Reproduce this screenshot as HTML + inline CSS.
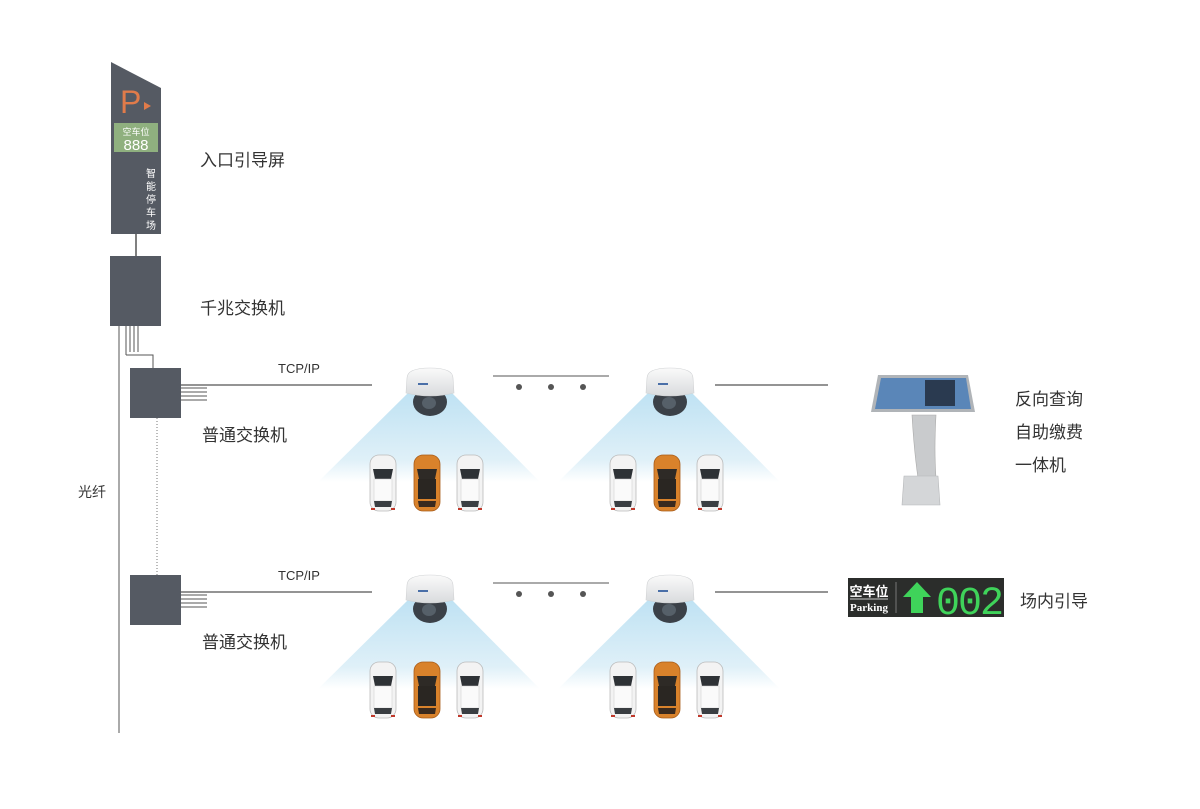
<!DOCTYPE html>
<html><head><meta charset="utf-8"><style>
body{margin:0;background:#fff;}
svg{display:block;font-family:"Liberation Sans","Noto Sans CJK SC",sans-serif;}
</style></head><body>
<svg width="1200" height="809" viewBox="0 0 1200 809" xmlns="http://www.w3.org/2000/svg">
<defs>
<linearGradient id="cone" x1="0" y1="0" x2="0" y2="1">
<stop offset="0" stop-color="#bfe2f3"/><stop offset="0.75" stop-color="#dff0f8"/><stop offset="1" stop-color="#ffffff"/>
</linearGradient>
<linearGradient id="dome" x1="0" y1="0" x2="0" y2="1">
<stop offset="0" stop-color="#fafafa"/><stop offset="1" stop-color="#d9dbdd"/>
</linearGradient>
<g id="cam">
<polygon points="-22,3 22,3 110,92 -112,92" fill="url(#cone)"/>
<ellipse cx="0" cy="12" rx="17" ry="14" fill="#3b4148"/>
<ellipse cx="-1" cy="13" rx="7" ry="6" fill="#566069"/>
<path d="M-23,-12 Q-23,-22 0,-22 Q23,-22 23,-12 L24,3 Q0,9 -24,3 Z" fill="url(#dome)" stroke="#d0d2d4" stroke-width="0.6"/>
<rect x="-12" y="-7" width="10" height="2" fill="#4a6fa8"/>
</g>
<g id="carW">
<rect x="-13" y="-28" width="26" height="56" rx="9" fill="#f3f3f3" stroke="#bbb" stroke-width="0.8"/>
<path d="M-10,-14 L10,-14 L8,-4 L-8,-4 Z" fill="#2e3236"/>
<rect x="-9" y="-4" width="18" height="22" fill="#fafafa" stroke="#ccc" stroke-width="0.5"/>
<path d="M-9,18 L9,18 L8,24 L-8,24 Z" fill="#3a3e42"/>
<rect x="-12" y="25" width="4" height="2" fill="#c0392b"/><rect x="8" y="25" width="4" height="2" fill="#c0392b"/>
</g>
<g id="carO">
<rect x="-13" y="-28" width="26" height="56" rx="9" fill="#d9822b" stroke="#a85c1a" stroke-width="0.8"/>
<path d="M-10,-14 L10,-14 L8,-4 L-8,-4 Z" fill="#2e2a26"/>
<rect x="-9" y="-4" width="18" height="20" fill="#2a2622"/>
<path d="M-9,18 L9,18 L8,24 L-8,24 Z" fill="#3a2a1e"/>
</g>
<g id="scene">
<use href="#cam" x="0" y="0"/>
<use href="#carW" x="-47" y="93"/>
<use href="#carO" x="-3" y="93"/>
<use href="#carW" x="40" y="93"/>
</g>
</defs>

<line x1="119" y1="326" x2="119" y2="733" stroke="#555" stroke-width="1"/>
<text x="78" y="497" font-size="14" fill="#333">光纤</text>

<polygon points="111,62 161,88 161,234 111,234" fill="#555a63"/>
<text x="120" y="113" font-size="32" fill="#e07b4a">P</text>
<polygon points="144,102 151,106 144,110" fill="#e07b4a"/>
<rect x="114" y="123" width="44" height="29" fill="#8fb07f"/>
<text x="136" y="135" font-size="9" fill="#fff" text-anchor="middle">空车位</text>
<text x="136" y="150" font-size="15" fill="#fff" text-anchor="middle">888</text>
<g font-size="10" fill="#fff" text-anchor="middle">
<text x="151" y="177">智</text><text x="151" y="190">能</text><text x="151" y="203">停</text><text x="151" y="216">车</text><text x="151" y="229">场</text>
</g>
<text x="200" y="166" font-size="17" fill="#333">入口引导屏</text>
<line x1="136" y1="234" x2="136" y2="256" stroke="#555" stroke-width="1.5"/>

<rect x="110" y="256" width="51" height="70" fill="#555a63"/>
<text x="200" y="314" font-size="17" fill="#333">千兆交换机</text>
<g stroke="#555" stroke-width="1">
<line x1="126" y1="326" x2="126" y2="355"/>
<line x1="130" y1="326" x2="130" y2="352"/>
<line x1="134" y1="326" x2="134" y2="352"/>
<line x1="138" y1="326" x2="138" y2="352"/>
<polyline points="126,355 153,355 153,368" fill="none"/>
</g>

<rect x="130" y="368" width="51" height="50" fill="#555a63"/>
<g stroke="#555" stroke-width="1">
<line x1="181" y1="388" x2="207" y2="388"/><line x1="181" y1="392" x2="207" y2="392"/>
<line x1="181" y1="396" x2="207" y2="396"/><line x1="181" y1="400" x2="207" y2="400"/>
</g>
<line x1="181" y1="385" x2="372" y2="385" stroke="#555" stroke-width="1.3"/>
<text x="278" y="373" font-size="13" fill="#333">TCP/IP</text>
<text x="202" y="441" font-size="17" fill="#333">普通交换机</text>
<line x1="157" y1="418" x2="157" y2="575" stroke="#777" stroke-width="1" stroke-dasharray="1,2"/>

<rect x="130" y="575" width="51" height="50" fill="#555a63"/>
<g stroke="#555" stroke-width="1">
<line x1="181" y1="595" x2="207" y2="595"/><line x1="181" y1="599" x2="207" y2="599"/>
<line x1="181" y1="603" x2="207" y2="603"/><line x1="181" y1="607" x2="207" y2="607"/>
</g>
<line x1="181" y1="592" x2="372" y2="592" stroke="#555" stroke-width="1.3"/>
<text x="278" y="580" font-size="13" fill="#333">TCP/IP</text>
<text x="202" y="648" font-size="17" fill="#333">普通交换机</text>

<use href="#scene" x="430" y="390"/>
<use href="#scene" x="670" y="390"/>
<line x1="493" y1="376" x2="609" y2="376" stroke="#555" stroke-width="1"/>
<circle cx="519" cy="387" r="3" fill="#555"/><circle cx="551" cy="387" r="3" fill="#555"/><circle cx="583" cy="387" r="3" fill="#555"/>
<line x1="715" y1="385" x2="828" y2="385" stroke="#555" stroke-width="1.3"/>

<use href="#scene" x="430" y="597"/>
<use href="#scene" x="670" y="597"/>
<line x1="493" y1="583" x2="609" y2="583" stroke="#555" stroke-width="1"/>
<circle cx="519" cy="594" r="3" fill="#555"/><circle cx="551" cy="594" r="3" fill="#555"/><circle cx="583" cy="594" r="3" fill="#555"/>
<line x1="715" y1="592" x2="828" y2="592" stroke="#555" stroke-width="1.3"/>

<polygon points="878,375 968,375 975,412 871,412" fill="#b0b4b8"/>
<polygon points="881,378 966,378 971,409 875,409" fill="#5a86b8"/>
<rect x="925" y="380" width="30" height="26" fill="#2a3a50"/>
<path d="M912,415 L936,415 Q934,450 936,478 L918,478 Q914,450 912,415 Z" fill="#c9cbcd" stroke="#aaa" stroke-width="0.6"/>
<polygon points="904,476 938,476 940,505 902,505" fill="#d4d6d8" stroke="#b5b7b9" stroke-width="0.6"/>
<g font-size="17" fill="#333">
<text x="1015" y="405">反向查询</text>
<text x="1015" y="438">自助缴费</text>
<text x="1015" y="471">一体机</text>
</g>

<rect x="848" y="578" width="156" height="39" fill="#2b2d2b"/>
<text x="869" y="596" font-size="13" font-weight="bold" fill="#fff" text-anchor="middle">空车位</text>
<line x1="850" y1="599" x2="888" y2="599" stroke="#fff" stroke-width="0.8"/>
<text x="869" y="611" font-size="11" font-weight="bold" fill="#fff" text-anchor="middle" font-family="Liberation Serif,serif">Parking</text>
<line x1="896" y1="582" x2="896" y2="613" stroke="#777" stroke-width="1"/>
<polygon points="917,582 931,597 923,597 923,613 911,613 911,597 903,597" fill="#3fd35a"/>
<text x="969" y="614" font-size="40" fill="#3fd35a" text-anchor="middle" font-family="Liberation Mono,monospace" letter-spacing="-2">002</text>
<text x="1020" y="607" font-size="17" fill="#333">场内引导</text>
</svg>
</body></html>
